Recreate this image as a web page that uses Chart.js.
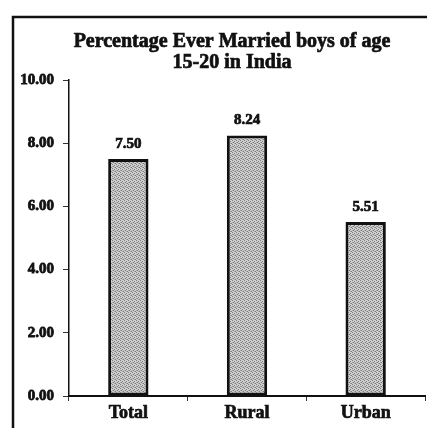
<!DOCTYPE html>
<html>
<head>
<meta charset="utf-8">
<script src="https://cdn.jsdelivr.net/npm/chart.js@4.4.0/dist/chart.umd.min.js"></script>
<style>
  html, body { margin: 0; padding: 0; background: #fff; }
  #wrap { width: 427px; height: 428px; position: relative; }
</style>
</head>
<body>
<div id="wrap"><canvas id="myChart" width="427" height="428"></canvas></div>
<script>
var categories = ['Total', 'Rural', 'Urban']
var married = [7.50, 8.24, 5.51]
var yTicks = [0, 2, 4, 6, 8, 10]
var titleLines = ['Percentage Ever Married boys of age', '15-20 in India']

var serif = '"Liberation Serif", "Times New Roman", serif'

// stippled grey fill like the scanned original
function makePattern() {
    let c = document.createElement('canvas')
    c.width = 4
    c.height = 4
    let g = c.getContext('2d')
    g.fillStyle = '#d0d0d0'
    g.fillRect(0, 0, 4, 4)
    g.fillStyle = '#7a7a7a'
    g.fillRect(0, 0, 1, 1)
    g.fillRect(2, 1, 1, 1)
    g.fillRect(1, 2, 1, 1)
    g.fillRect(3, 3, 1, 1)
    g.fillStyle = '#a4a4a4'
    g.fillRect(2, 3, 1, 1)
    g.fillRect(0, 2, 1, 1)
    return g.createPattern(c, 'repeat')
}

const extras = {
    id: 'extras',
    afterDraw(chart) {
        let ctx = chart.ctx
        ctx.save()
        // frame of the scanned figure
        ctx.strokeStyle = '#111'
        ctx.lineWidth = 2.5
        ctx.beginPath()
        ctx.moveTo(13, 428)
        ctx.lineTo(13, 17)
        ctx.lineTo(427, 17)
        ctx.stroke()

        // title
        ctx.fillStyle = '#111'
        ctx.strokeStyle = '#111'
        ctx.lineWidth = 0.7
        ctx.textAlign = 'center'
        ctx.textBaseline = 'alphabetic'
        ctx.font = 'bold 20px ' + serif
        ctx.fillText(titleLines[0], 232, 47)
        ctx.strokeText(titleLines[0], 232, 47)
        ctx.fillText(titleLines[1], 232, 68)
        ctx.strokeText(titleLines[1], 232, 68)

        // value labels
        ctx.textBaseline = 'middle'
        ctx.font = 'bold 15px ' + serif
        let meta = chart.getDatasetMeta(0)
        meta.data.forEach(function (bar, i) {
            let txt = married[i].toFixed(2)
            ctx.fillText(txt, bar.x, bar.y - 15)
            ctx.strokeText(txt, bar.x, bar.y - 15)
        })
        ctx.restore()
    }
}

var ctx = document.getElementById('myChart').getContext('2d')
var myBar = new Chart(ctx, {
    type: 'bar',
    data: {
        labels: categories,
        datasets: [{
            data: married,
            backgroundColor: makePattern(),
            borderColor: '#111',
            borderWidth: 3,
            borderSkipped: false,
            barPercentage: 0.34,
            categoryPercentage: 1
        }]
    },
    options: {
        responsive: false,
        animation: false,
        devicePixelRatio: 1,
        layout: { padding: { left: 12, right: 2, top: 80, bottom: 0 } },
        plugins: {
            legend: { display: false },
            tooltip: { enabled: false },
            title: { display: false }
        },
        scales: {
            x: {
                offset: true,
                afterFit: function (scale) { scale.height = 32 },
                grid: {
                    offset: true,
                    drawOnChartArea: false,
                    tickLength: 5,
                    color: '#333'
                },
                border: { color: '#111', width: 2 },
                ticks: {
                    color: '#111',
                    padding: 2,
                    textStrokeColor: '#111',
                    textStrokeWidth: 0.7,
                    font: { family: serif, size: 18, weight: 'bold' }
                }
            },
            y: {
                min: 0,
                max: 10,
                afterFit: function (scale) { scale.width = 57 },
                afterBuildTicks: function (scale) {
                    scale.ticks = yTicks.map(function (v) { return { value: v } })
                },
                grid: {
                    drawOnChartArea: false,
                    tickLength: 6,
                    color: '#333'
                },
                border: { color: '#111', width: 1.5 },
                ticks: {
                    color: '#111',
                    padding: 9,
                    textStrokeColor: '#111',
                    textStrokeWidth: 0.8,
                    font: { family: serif, size: 15, weight: 'bold' },
                    callback: function (v) { return v.toFixed(2) }
                }
            }
        }
    },
    plugins: [extras]
})
</script>
</body>
</html>
